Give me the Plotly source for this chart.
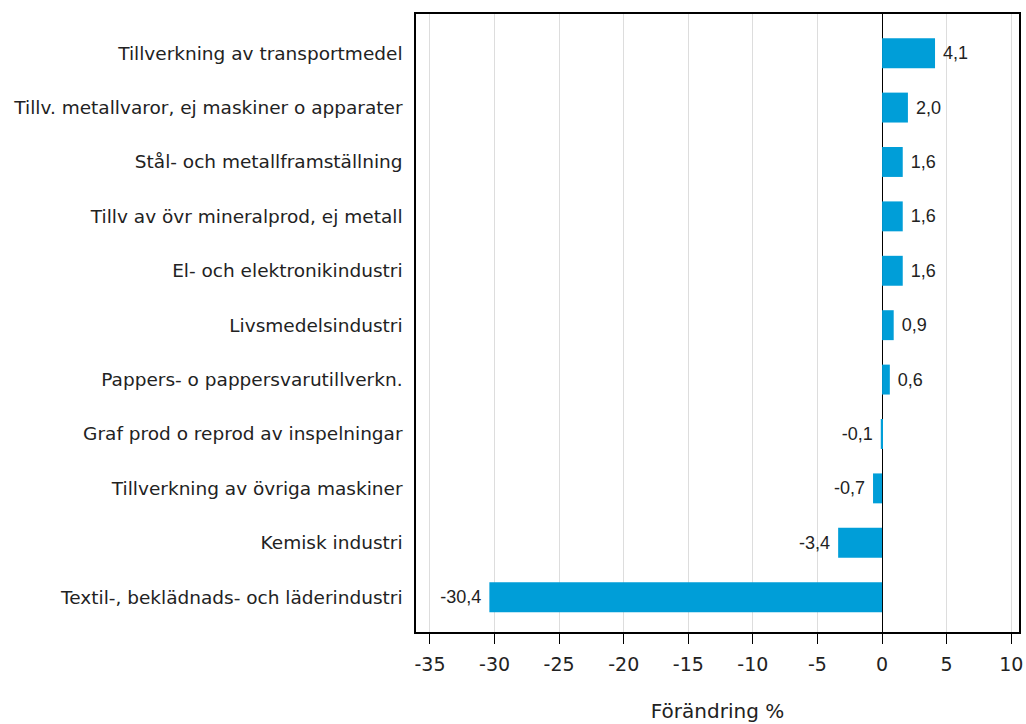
import plotly.graph_objects as go

categories = [
    "Tillverkning av transportmedel",
    "Tillv. metallvaror, ej maskiner o apparater",
    "Stål- och metallframställning",
    "Tillv av övr mineralprod, ej metall",
    "El- och elektronikindustri",
    "Livsmedelsindustri",
    "Pappers- o pappersvarutillverkn.",
    "Graf prod o reprod av inspelningar",
    "Tillverkning av övriga maskiner",
    "Kemisk industri",
    "Textil-, beklädnads- och läderindustri",
]
values = [4.1, 2.0, 1.6, 1.6, 1.6, 0.9, 0.6, -0.1, -0.7, -3.4, -30.4]
x_ticks = [-35, -30, -25, -20, -15, -10, -5, 0, 5, 10]

n = len(categories)
ypos = [n - 1 - i for i in range(n)]
nb = "\u00a0"
labels = [
    (nb + f"{v:.1f}".replace(".", ",")) if v >= 0 else (f"{v:.1f}".replace(".", ",") + nb)
    for v in values
]

wide = "DejaVu Sans, sans-serif"
narrow = "Liberation Sans, Arial, sans-serif"

fig = go.Figure()
fig.add_trace(go.Bar(
    x=values, y=ypos, orientation="h",
    marker=dict(color="#009ED8", line=dict(width=0)),
    width=0.55,
    text=labels, textposition="outside",
    textfont=dict(family=narrow, size=18, color="#222222"),
    cliponaxis=False,
))

fig.update_layout(
    width=1026, height=724,
    margin=dict(l=416, r=3, t=14, b=92),
    paper_bgcolor="white", plot_bgcolor="white",
    showlegend=False,
    font=dict(family=wide, size=18, color="#222222"),
    xaxis=dict(
        range=[-36.08, 10.6],
        tickvals=x_ticks,
        ticktext=[str(t) for t in x_ticks],
        showgrid=True, gridcolor="#DDDDDD", gridwidth=1,
        zeroline=True, zerolinecolor="black", zerolinewidth=1.2,
        showline=True, linecolor="black", linewidth=1.5, mirror=True,
        ticks="outside", ticklen=10, tickcolor="black",
        ticklabelstandoff=4,
        tickfont=dict(family=wide, size=19),
        title=dict(text="Förändring %", font=dict(family=wide, size=20), standoff=30),
    ),
    yaxis=dict(
        range=[-0.64, 10.72],
        tickvals=ypos, ticktext=categories,
        showgrid=False, zeroline=False,
        showline=True, linecolor="black", linewidth=1.5, mirror=True,
        ticks="", ticklabelstandoff=8,
        tickfont=dict(family=wide, size=18.5),
    ),
)

fig.write_html(
    "out.html",
    config={"displayModeBar": False},
    post_script="document.body.style.margin='0';document.body.style.overflow='hidden';",
)
